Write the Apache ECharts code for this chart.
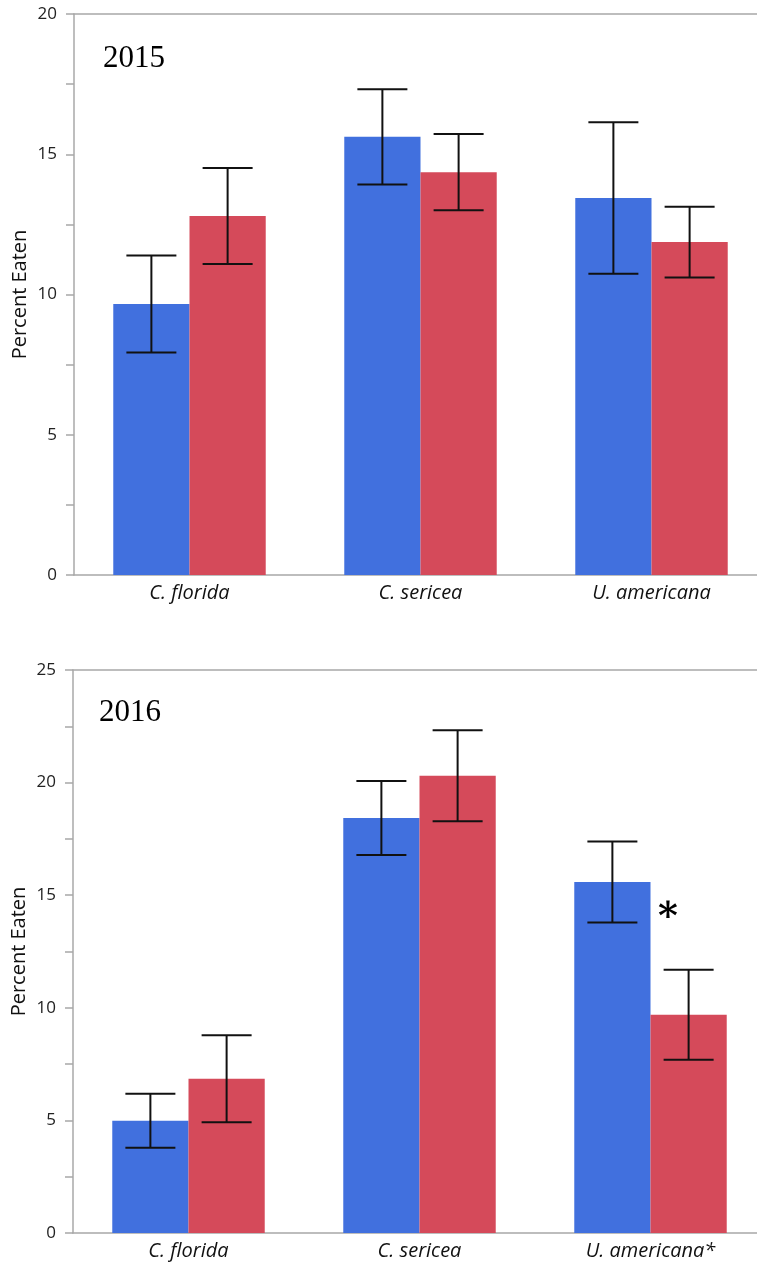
<!DOCTYPE html>
<html><head><meta charset="utf-8">
<script src="https://cdn.jsdelivr.net/npm/echarts@6/dist/echarts.min.js"></script>
<style>html,body{margin:0;padding:0;background:#fff}#c{width:757px;height:1266px}</style>
</head><body><div id="c"></div>
<script>
const categories2015 = ['C. florida', 'C. sericea', 'U. americana'];
const categories2016 = ['C. florida', 'C. sericea', 'U. americana*'];
const blue2015 = [9.66, 15.62, 13.44];
const blueErr2015 = [1.73, 1.70, 2.70];
const red2015 = [12.8, 14.36, 11.87];
const redErr2015 = [1.71, 1.36, 1.26];
const blue2016 = [4.98, 18.43, 15.59];
const blueErr2016 = [1.2, 1.64, 1.8];
const red2016 = [6.85, 20.3, 9.69];
const redErr2016 = [1.93, 2.02, 2.0];
const yTicks2015 = {min: 0, max: 20, interval: 2.5};
const yTicks2016 = {min: 0, max: 25, interval: 2.5};

const BLUE = '#4170de', RED = '#d54a5a', AX = '#a8a8a8';
const chart = echarts.init(document.getElementById('c'), null, {renderer: 'canvas'});

function errSeries(vals, errs, side, xi) {
  return {
    type: 'custom', xAxisIndex: xi, yAxisIndex: xi / 2, z: 10, clip: false,
    data: vals.map((v, i) => [i, v, errs[i]]),
    encode: {x: 0, y: 1},
    renderItem: function (params, api) {
      const i = api.value(0), m = api.value(1), e = api.value(2);
      const band = api.size([1, 0])[0];
      const off = side * band * 0.165;
      const hi = api.coord([i, m + e]), lo = api.coord([i, m - e]);
      const x = hi[0] + off, hw = 25;
      const st = {stroke: '#111', lineWidth: 2};
      return {type: 'group', children: [
        {type: 'line', shape: {x1: x, y1: hi[1], x2: x, y2: lo[1]}, style: st},
        {type: 'line', shape: {x1: x - hw, y1: hi[1], x2: x + hw, y2: hi[1]}, style: st},
        {type: 'line', shape: {x1: x - hw, y1: lo[1], x2: x + hw, y2: lo[1]}, style: st}
      ]};
    }
  };
}

function xAx(cats, gi) {
  return [{
    type: 'category', gridIndex: gi, data: cats, position: 'bottom',
    axisLine: {lineStyle: {color: AX, width: 1.5}}, axisTick: {show: false},
    axisLabel: {fontFamily: 'Open Sans', fontStyle: 'italic', fontSize: 20, color: '#111', margin: 8}
  }, {
    type: 'category', gridIndex: gi, data: cats, position: 'top',
    axisLine: {show: true, lineStyle: {color: AX, width: 1.5}}, axisTick: {show: false}, axisLabel: {show: false}
  }];
}
function yAx(t, gi) {
  return {
    type: 'value', gridIndex: gi, min: t.min, max: t.max, interval: t.interval,
    name: 'Percent Eaten', nameLocation: 'middle', nameGap: 44, nameRotate: 90, nameMoveOverlap: false,
    nameTextStyle: {fontFamily: 'Open Sans', fontSize: 20, color: '#111'},
    axisLine: {show: true, lineStyle: {color: AX, width: 1.5}},
    axisTick: {show: true, length: 8, lineStyle: {color: AX, width: 1.5}},
    splitLine: {show: false},
    axisLabel: {fontFamily: 'Open Sans', fontSize: 17, color: '#222', margin: 17,
      formatter: v => (v % 5 === 0 ? String(v) : '')}
  };
}
const barCommon = {type: 'bar', barGap: '0%', barCategoryGap: '34%'};

chart.setOption({
  animation: false,
  grid: [
    {left: 74, top: 14, width: 693, height: 561, containLabel: false, outerBoundsMode: 'none'},
    {left: 73, top: 670, width: 693, height: 563, containLabel: false, outerBoundsMode: 'none'}
  ],
  xAxis: [...xAx(categories2015, 0), ...xAx(categories2016, 1)],
  yAxis: [yAx(yTicks2015, 0), yAx(yTicks2016, 1)],
  series: [
    {...barCommon, xAxisIndex: 0, yAxisIndex: 0, data: blue2015, itemStyle: {color: BLUE}},
    {...barCommon, xAxisIndex: 0, yAxisIndex: 0, data: red2015, itemStyle: {color: RED}},
    {...barCommon, xAxisIndex: 2, yAxisIndex: 1, data: blue2016, itemStyle: {color: BLUE}},
    {...barCommon, xAxisIndex: 2, yAxisIndex: 1, data: red2016, itemStyle: {color: RED}},
    errSeries(blue2015, blueErr2015, -1, 0),
    errSeries(red2015, redErr2015, 1, 0),
    errSeries(blue2016, blueErr2016, -1, 2),
    errSeries(red2016, redErr2016, 1, 2)
  ],
  graphic: [
    {type: 'text', left: 103, top: 43, style: {text: '2015', font: '31px "Liberation Serif"', fill: '#000'}},
    {type: 'text', left: 99, top: 697, style: {text: '2016', font: '31px "Liberation Serif"', fill: '#000'}},
    {type: 'text', left: 658, top: 899, style: {text: '*', font: 'bold 38px "DejaVu Serif"', fill: '#000'}}
  ]
});
</script></body></html>
